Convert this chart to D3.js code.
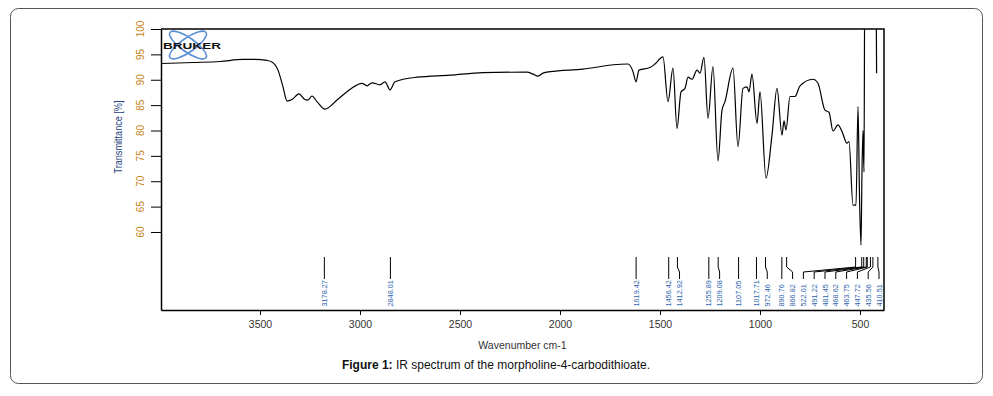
<!DOCTYPE html>
<meta charset="utf-8">
<title>IR spectrum</title>
<script src="https://d3js.org/d3.v7.min.js"></script>
<style>
  body { margin: 0; background: #fff; }
  svg { display: block; font-family: "Liberation Sans", Arial, sans-serif; }
</style>
<body>
<svg width="993" height="396"></svg>
<script>

// spectrum (wavenumber cm-1, transmittance %)
var wavenumber = [3995, 3835, 3700, 3585, 3525, 3465, 3440, 3410, 3385, 3365, 3340, 3305, 3275, 3260, 3240, 3215,
  3175, 3115, 3050, 2990, 2965, 2940, 2900, 2875, 2850, 2825, 2715, 2550, 2385, 2165, 2135, 2110, 2085, 2050,
  1885, 1715, 1660, 1635, 1620, 1605, 1550, 1525, 1485, 1460, 1435, 1415, 1395, 1375, 1360, 1340, 1315, 1300,
  1280, 1260, 1235, 1210, 1190, 1175, 1135, 1110, 1085, 1065, 1055, 1040, 1015, 1000, 970, 940, 915, 890, 880,
  870, 850, 825, 800, 735, 710, 675, 655, 635, 610, 590, 565, 555, 535, 520, 510, 502, 495, 490, 485, 480, 476,
  420, 417];
var transmittance = [93.2, 93.4, 93.6, 94.0, 94.0, 93.8, 93.5, 91.9, 88.6, 85.8, 86.1, 87.2, 86.1, 86.0, 86.8, 85.7,
  84.2, 86.0, 88.1, 89.3, 88.8, 89.4, 89.0, 89.6, 88.0, 89.6, 90.5, 90.9, 91.4, 91.5, 91.1, 90.7, 91.3, 91.6,
  92.1, 93.0, 93.1, 91.6, 89.6, 91.9, 92.4, 93.1, 94.5, 85.7, 92.3, 80.4, 87.6, 88.3, 90.5, 90.1, 91.9, 91.3,
  94.4, 82.4, 92.6, 74.0, 84.0, 85.7, 92.3, 76.8, 88.3, 88.6, 87.6, 91.1, 81.4, 87.6, 70.6, 79.1, 88.3, 79.1, 81.9,
  80.1, 86.7, 86.7, 88.8, 90.1, 89.3, 84.0, 83.6, 79.9, 81.1, 79.8, 77.5, 77.8, 65.3, 65.3, 84.7, 66.0, 57.4, 72.0, 80.0, 71.8, 112,
  112, 91.3];

var peakLabels = ["3178.27", "2848.01", "1619.42", "1456.42", "1412.92", "1255.89", "1209.08", "1107.05",
  "1017.71", "972.46", "890.76", "866.82", "522.01", "491.22", "481.45", "468.62", "463.75", "447.72",
  "435.56", "410.51"];

var xTicks = [3500, 3000, 2500, 2000, 1500, 1000, 500];
var yTicks = [100, 95, 90, 85, 80, 75, 70, 65, 60];

var svg = d3.select("svg");

// plot box (note: "top" is taken by window.top, so prefix these)
var plotLeft = 161, plotRight = 884, plotTop = 29, plotBottom = 310;

var x = d3.scaleLinear().domain([3995, 380]).range([plotLeft, plotRight]);
var y = d3.scaleLinear().domain([44.63, 100]).range([plotBottom, plotTop]);

// outer figure frame
svg.append("rect")
  .attr("x", 10.5).attr("y", 8.5)
  .attr("width", 972).attr("height", 375)
  .attr("rx", 8)
  .attr("fill", "none")
  .attr("stroke", "#555")
  .attr("stroke-width", 1);

svg.append("clipPath").attr("id", "plotclip")
  .append("rect")
  .attr("x", plotLeft).attr("y", plotTop)
  .attr("width", plotRight - plotLeft).attr("height", plotBottom - plotTop);

// bruker logo
var logo = svg.append("g").attr("transform", "translate(188,45)");
[35, -35].forEach(function(a) {
  logo.append("ellipse")
    .attr("rx", 22).attr("ry", 7)
    .attr("transform", "rotate(" + a + ")")
    .attr("fill", "none")
    .attr("stroke", "#5b8fd6")
    .attr("stroke-width", 1.6);
});
svg.append("text")
  .attr("x", 163).attr("y", 48.5)
  .attr("textLength", 58)
  .attr("lengthAdjust", "spacingAndGlyphs")
  .attr("font-size", 9)
  .attr("font-weight", "bold")
  .attr("fill", "#111")
  .text("BRUKER");

// spectrum
var points = wavenumber.map(function(w, i) { return [w, transmittance[i]]; });
var line = d3.line()
  .x(function(d) { return x(d[0]); })
  .y(function(d) { return y(d[1]); })
  .curve(d3.curveMonotoneX);

svg.append("path")
  .datum(points)
  .attr("clip-path", "url(#plotclip)")
  .attr("d", line)
  .attr("fill", "none")
  .attr("stroke", "#000")
  .attr("stroke-width", 1.2);

// frame: top and right edges
svg.append("path")
  .attr("d", "M" + plotLeft + "," + plotTop + "H" + plotRight + "V" + plotBottom)
  .attr("fill", "none")
  .attr("stroke", "#000")
  .attr("stroke-width", 1.5);

// y axis
var yAxis = svg.append("g")
  .attr("transform", "translate(" + plotLeft + ",0)")
  .call(d3.axisLeft(y).tickValues(yTicks).tickSize(10).tickSizeOuter(0).tickFormat(""));
yAxis.select(".domain").attr("stroke-width", 1.5);

svg.append("g").selectAll("text")
  .data(yTicks)
  .enter()
  .append("text")
  .attr("transform", function(d) { return "translate(140," + y(d) + ") rotate(-90)"; })
  .attr("text-anchor", "middle")
  .attr("dominant-baseline", "central")
  .attr("font-size", 10)
  .attr("fill", "#c48419")
  .text(function(d) { return d; });

svg.append("text")
  .attr("transform", "translate(118,137) rotate(-90)")
  .attr("text-anchor", "middle")
  .attr("dominant-baseline", "central")
  .attr("font-size", 10.5)
  .attr("textLength", 73)
  .attr("lengthAdjust", "spacingAndGlyphs")
  .attr("fill", "#24427e")
  .text("Transmittance [%]");

// x axis
var xAxis = svg.append("g")
  .attr("transform", "translate(0," + plotBottom + ")")
  .call(d3.axisBottom(x).tickValues(xTicks).tickSize(5).tickSizeOuter(0).tickPadding(6).tickFormat(d3.format("d")));
xAxis.select(".domain").attr("stroke-width", 1.5);
xAxis.selectAll("text")
  .attr("font-size", 10.5)
  .attr("fill", "#333")
  .attr("font-family", "Liberation Sans, Arial, sans-serif");

svg.append("text")
  .attr("x", (plotLeft + plotRight) / 2).attr("y", 349)
  .attr("text-anchor", "middle")
  .attr("font-size", 10.5)
  .attr("fill", "#333")
  .text("Wavenumber cm-1");

// peak markers with spread labels
var gap = 10.8;
var peaks = peakLabels.map(function(s) { return { label: s, px: x(+s) }; });
peaks.forEach(function(p, i) {
  p.lx = i === 0 ? p.px : Math.max(p.px, peaks[i - 1].lx + gap);
});
for (var i = peaks.length - 1; i >= 0; i--) {
  var limit = i === peaks.length - 1 ? plotRight - 5 : peaks[i + 1].lx - gap;
  peaks[i].lx = Math.min(peaks[i].lx, limit);
}

var pk = svg.append("g").selectAll("g")
  .data(peaks)
  .enter()
  .append("g");

pk.append("path")
  .attr("d", function(d) {
    return "M" + d.px + ",257V267L" + d.lx + ",272V279";
  })
  .attr("fill", "none")
  .attr("stroke", "#000")
  .attr("stroke-width", 1);

pk.append("text")
  .attr("transform", function(d) { return "translate(" + d.lx + ",306.5) rotate(-90)"; })
  .attr("dominant-baseline", "central")
  .attr("font-size", 7.3)
  .attr("fill", "#2d64b0")
  .text(function(d) { return d.label; });

// caption
var cap = svg.append("text")
  .attr("x", 496).attr("y", 369)
  .attr("text-anchor", "middle")
  .attr("font-size", 12)
  .attr("fill", "#111");
cap.append("tspan").attr("font-weight", "bold").text("Figure 1:");
cap.append("tspan").text(" IR spectrum of the morpholine-4-carbodithioate.");

</script>
</body>
